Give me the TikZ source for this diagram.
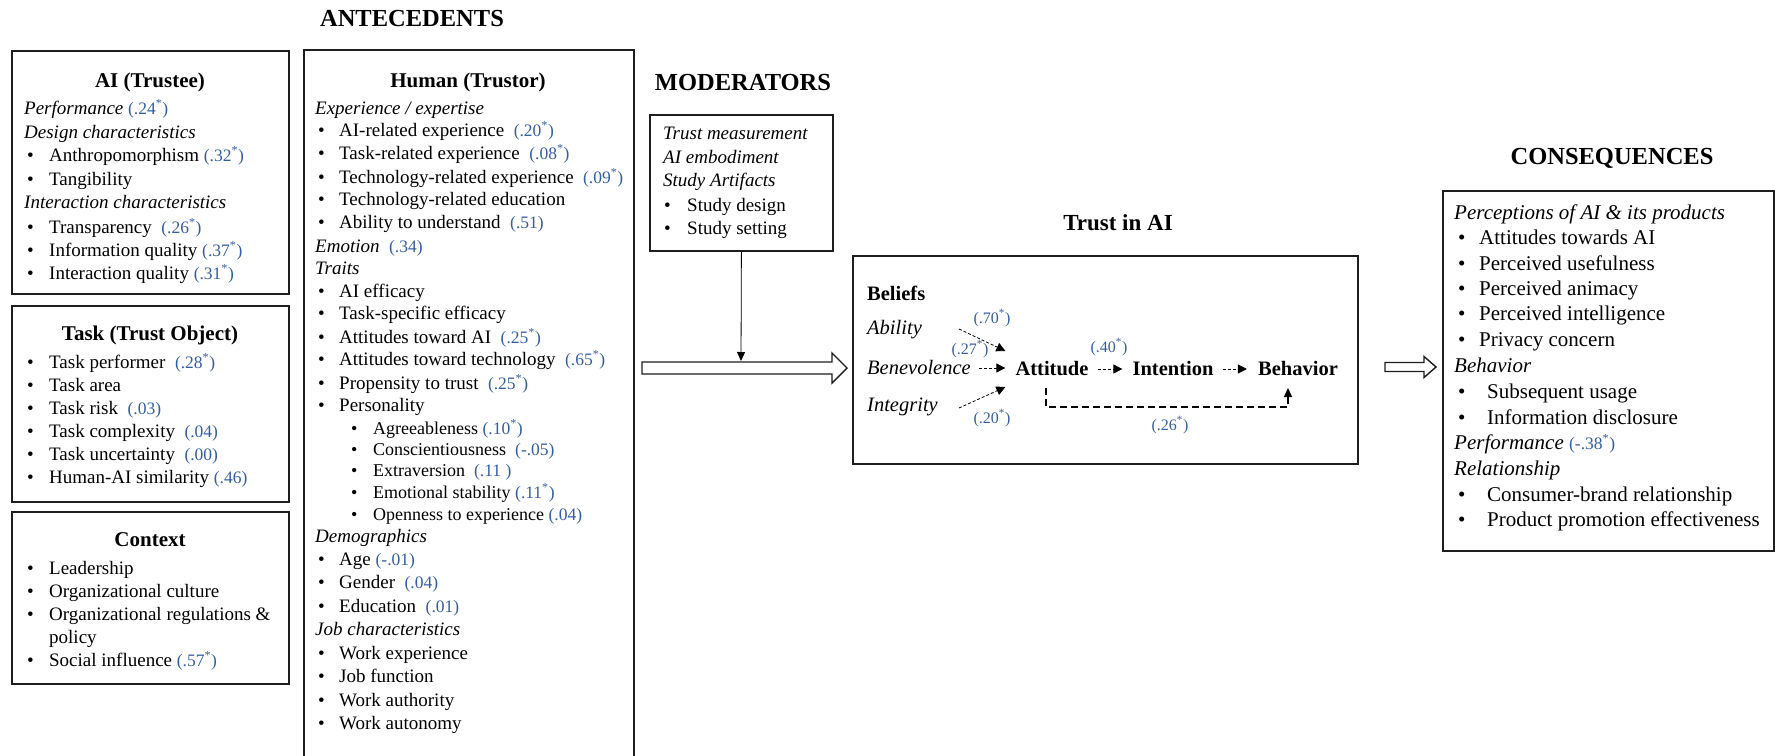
\documentclass[tikz,border=0pt]{standalone}
\usepackage{fontspec}
\setmainfont{Liberation Serif}
\usetikzlibrary{arrows.meta,calc}
\definecolor{coef}{RGB}{52,94,160}
\definecolor{frame}{RGB}{30,30,30}

% coefficient labels, plain and significant (starred)
\newcommand{\cf}[1]{{\fontsize{17.5}{20}\selectfont\color{coef}(#1)}}
\newcommand{\cfs}[1]{{\fontsize{17.5}{20}\selectfont\color{coef}(#1\textsuperscript{*})}}
% bullet item: indent of the bullet, start of the text, text
\newcommand{\itm}[3]{\makebox[#2][l]{\hspace{#1}\textbullet}#3}

\begin{document}
\begin{tikzpicture}[x=1pt,y=-1pt,
  box/.style={draw=frame, line width=1.8pt, anchor=north west, inner sep=0pt},
  body/.style={anchor=west, inner sep=0pt, font=\fontsize{19}{23}\selectfont, text height=12.5pt, text depth=0pt},
  subbody/.style={body, font=\fontsize{18}{22}\selectfont, text height=12pt},
  cons/.style={body, font=\fontsize{21}{25}\selectfont, text height=14pt},
  tbody/.style={body, font=\fontsize{20.5}{24}\selectfont, text height=13.6pt},
  flow/.style={anchor=center, inner sep=0pt, font=\fontsize{20.5}{24}\selectfont\bfseries, text height=13.6pt, text depth=0pt},
  ttl/.style={anchor=center, inner sep=0pt, font=\fontsize{21}{25}\selectfont\bfseries, text height=14pt, text depth=0pt},
  head/.style={anchor=center, inner sep=0pt, font=\fontsize{24.5}{28}\selectfont\bfseries, text height=16.2pt, text depth=0pt},
  kf/.style={anchor=center, inner sep=0pt, font=\fontsize{16}{18}\selectfont, text=coef},
  dsh/.style={line width=0.8pt, dash pattern=on 3pt off 2pt, -{Triangle[length=9pt,width=9pt]}},
  hollow/.style={draw=frame, line width=1.4pt, fill=white, line join=miter},
]
\useasboundingbox (0,0) rectangle (1775,755);
\clip (0,0) rectangle (1775,755);

% ---------- section headings ----------
\node[head] (antH) at (412,18) {ANTECEDENTS};
\node[head] (modH) at (743,82) {MODERATORS};
\node[head, font=\fontsize{23}{27}\selectfont\bfseries, text height=15.2pt] (trustH) at (1118,223) {Trust in AI};
\node[head] (consH) at (1612,156) {CONSEQUENCES};

% ---------- AI (Trustee) ----------
\node[box, minimum width=277pt, minimum height=243pt] (aibox) at (11,50) {};
\node[ttl] (aiT) at (150,80) {AI (Trustee)};
\node[body] (a1) at (24,108) {\textit{Performance} \cfs{.24}};
\node[body] (a2) at (24,132) {\textit{Design characteristics}};
\node[body] (a3) at (24,155) {\itm{3pt}{25pt}{Anthropomorphism \cfs{.32}}};
\node[body] (a4) at (24,179) {\itm{3pt}{25pt}{Tangibility}};
\node[body] (a5) at (24,202) {\textit{Interaction characteristics}};
\node[body] (a6) at (24,227) {\itm{3pt}{25pt}{Transparency \ \cfs{.26}}};
\node[body] (a7) at (24,250) {\itm{3pt}{25pt}{Information quality \cfs{.37}}};
\node[body] (a8) at (24,273) {\itm{3pt}{25pt}{Interaction quality \cfs{.31}}};

% ---------- Task (Trust Object) ----------
\node[box, minimum width=277pt, minimum height=196pt] (taskbox) at (11,305) {};
\node[ttl] (taskT) at (150,333) {Task (Trust Object)};
\node[body] (t1) at (24,362) {\itm{3pt}{25pt}{Task performer \ \cfs{.28}}};
\node[body] (t2) at (24,385) {\itm{3pt}{25pt}{Task area}};
\node[body] (t3) at (24,408) {\itm{3pt}{25pt}{Task risk \ \cf{.03}}};
\node[body] (t4) at (24,431) {\itm{3pt}{25pt}{Task complexity \ \cf{.04}}};
\node[body] (t5) at (24,454) {\itm{3pt}{25pt}{Task uncertainty \ \cf{.00}}};
\node[body] (t6) at (24,477) {\itm{3pt}{25pt}{Human-AI similarity \cf{.46}}};

% ---------- Context ----------
\node[box, minimum width=277pt, minimum height=172pt] (ctxbox) at (11,511) {};
\node[ttl] (ctxT) at (150,539) {Context};
\node[body] (c1) at (24,568) {\itm{3pt}{25pt}{Leadership}};
\node[body] (c2) at (24,591) {\itm{3pt}{25pt}{Organizational culture}};
\node[body] (c3) at (24,614) {\itm{3pt}{25pt}{Organizational regulations \&}};
\node[body] (c4) at (24,637) {\hspace{25pt}policy};
\node[body] (c5) at (24,660) {\itm{3pt}{25pt}{Social influence \cfs{.57}}};

% ---------- Human (Trustor) ----------
\node[box, minimum width=330pt, minimum height=730pt] (humbox) at (303,49) {};
\node[ttl] (humT) at (468,80) {Human (Trustor)};
\node[body] (h1) at (315,108) {\textit{Experience / expertise}};
\node[body] (h2) at (315,130) {\itm{3pt}{24pt}{AI-related experience \ \cfs{.20}}};
\node[body] (h3) at (315,153) {\itm{3pt}{24pt}{Task-related experience \ \cfs{.08}}};
\node[body] (h4) at (315,177) {\itm{3pt}{24pt}{Technology-related experience \ \cfs{.09}}};
\node[body] (h5) at (315,199) {\itm{3pt}{24pt}{Technology-related education}};
\node[body] (h6) at (315,222) {\itm{3pt}{24pt}{Ability to understand \ \cf{.51}}};
\node[body] (h7) at (315,246) {\textit{Emotion} \ \cf{.34}};
\node[body] (h8) at (315,268) {\textit{Traits}};
\node[body] (h9) at (315,291) {\itm{3pt}{24pt}{AI efficacy}};
\node[body] (h10) at (315,313) {\itm{3pt}{24pt}{Task-specific efficacy}};
\node[body] (h11) at (315,337) {\itm{3pt}{24pt}{Attitudes toward AI \ \cfs{.25}}};
\node[body] (h12) at (315,359) {\itm{3pt}{24pt}{Attitudes toward technology \ \cfs{.65}}};
\node[body] (h13) at (315,383) {\itm{3pt}{24pt}{Propensity to trust \ \cfs{.25}}};
\node[body] (h14) at (315,405) {\itm{3pt}{24pt}{Personality}};
\node[subbody] (h15) at (315,428) {\itm{36pt}{58pt}{Agreeableness \cfs{.10}}};
\node[subbody] (h16) at (315,449) {\itm{36pt}{58pt}{Conscientiousness \ \cf{-.05}}};
\node[subbody] (h17) at (315,470) {\itm{36pt}{58pt}{Extraversion \ \cf{.11 }}};
\node[subbody] (h18) at (315,492) {\itm{36pt}{58pt}{Emotional stability \cfs{.11}}};
\node[subbody] (h19) at (315,514) {\itm{36pt}{58pt}{Openness to experience \cf{.04}}};
\node[body] (h20) at (315,536) {\textit{Demographics}};
\node[body] (h21) at (315,559) {\itm{3pt}{24pt}{Age \cf{-.01}}};
\node[body] (h22) at (315,582) {\itm{3pt}{24pt}{Gender \ \cf{.04}}};
\node[body] (h23) at (315,606) {\itm{3pt}{24pt}{Education \ \cf{.01}}};
\node[body] (h24) at (315,629) {\textit{Job characteristics}};
\node[body] (h25) at (315,653) {\itm{3pt}{24pt}{Work experience}};
\node[body] (h26) at (315,676) {\itm{3pt}{24pt}{Job function}};
\node[body] (h27) at (315,700) {\itm{3pt}{24pt}{Work authority}};
\node[body] (h28) at (315,723) {\itm{3pt}{24pt}{Work autonomy}};

% ---------- Moderators ----------
\node[box, minimum width=183pt, minimum height=136pt] (modbox) at (649,114) {};
\node[body] (m1) at (663,133) {\textit{Trust measurement}};
\node[body] (m2) at (663,157) {\textit{AI embodiment}};
\node[body] (m3) at (663,180) {\textit{Study Artifacts}};
\node[body] (m4) at (663,205) {\itm{1pt}{24pt}{Study design}};
\node[body] (m5) at (663,228) {\itm{1pt}{24pt}{Study setting}};

% ---------- Trust in AI ----------
\node[box, minimum width=505pt, minimum height=208pt] (trustbox) at (852,255) {};
\node[tbody] (bel) at (867,294) {\textbf{Beliefs}};
\node[tbody] (abil) at (867,328) {\textit{Ability}};
\node[tbody] (ben) at (867,368) {\textit{Benevolence}};
\node[tbody] (integ) at (867,405) {\textit{Integrity}};
\node[flow] (att) at (1052,369) {Attitude};
\node[flow] (intn) at (1173,369) {Intention};
\node[flow] (behv) at (1298,369) {Behavior};

\draw[dsh] ([xshift=37pt,yshift=-1pt]abil.east) -- ([xshift=-10pt,yshift=18pt]att.west);
\draw[dsh, shorten <=8pt, shorten >=10pt] (ben.east) -- (ben.east -| att.west);
\draw[dsh] ([xshift=21pt,yshift=-3pt]integ.east) -- ([xshift=-10pt,yshift=-18pt]att.west);
\draw[dsh, shorten <=9pt, shorten >=10pt] (att.east) -- (intn.west);
\draw[dsh, shorten <=9pt, shorten >=11pt] (intn.east) -- (behv.west);
\draw[line width=1.2pt, dash pattern=on 7pt off 4pt, -{Triangle[length=9pt,width=8pt]}]
  ([xshift=-6pt,yshift=-12pt]att.south) -- ++(0,19) -| ([xshift=-10pt,yshift=-12pt]behv.south);

\node[kf] (k70) at (992,318) {(.70\textsuperscript{*})};
\node[kf] (k27) at (970,349) {(.27\textsuperscript{*})};
\node[kf] (k40) at (1109,347) {(.40\textsuperscript{*})};
\node[kf] (k20) at (992,418) {(.20\textsuperscript{*})};
\node[kf] (k26) at (1170,425) {(.26\textsuperscript{*})};

% ---------- Consequences ----------
\node[box, minimum width=331pt, minimum height=360pt] (consbox) at (1442,190) {};
\node[cons] (q1) at (1454,212) {\textit{Perceptions of AI \& its products}};
\node[cons] (q2) at (1454,237) {\itm{4pt}{25pt}{Attitudes towards AI}};
\node[cons] (q3) at (1454,263) {\itm{4pt}{25pt}{Perceived usefulness}};
\node[cons] (q4) at (1454,288) {\itm{4pt}{25pt}{Perceived animacy}};
\node[cons] (q5) at (1454,313) {\itm{4pt}{25pt}{Perceived intelligence}};
\node[cons] (q6) at (1454,339) {\itm{4pt}{25pt}{Privacy concern}};
\node[cons] (q7) at (1454,365) {\textit{Behavior}};
\node[cons] (q8) at (1454,391) {\itm{4pt}{33pt}{Subsequent usage}};
\node[cons] (q9) at (1454,417) {\itm{4pt}{33pt}{Information disclosure}};
\node[cons] (q10) at (1454,442) {\textit{Performance} \cfs{-.38}};
\node[cons] (q11) at (1454,468) {\textit{Relationship}};
\node[cons] (q12) at (1454,494) {\itm{4pt}{33pt}{Consumer-brand relationship}};
\node[cons] (q13) at (1454,519) {\itm{4pt}{33pt}{Product promotion effectiveness}};

% ---------- connectors ----------
% antecedents -> trust (hollow block arrow)
\draw[hollow] (642,362) -- (832,362) -- (832,353) -- (847,368) -- (832,383) -- (832,374) -- (642,374) -- cycle;
% trust -> consequences (hollow block arrow)
\draw[hollow] (1385,362.5) -- (1424,362.5) -- (1424,356.5) -- (1436,367) -- (1424,377.5) -- (1424,371.5) -- (1385,371.5) -- cycle;
% moderators acting on the main path
\coordinate (modtip) at (741,361);
\draw[line width=0.8pt, -{Triangle[length=9pt,width=8pt]}] (modbox.south) -- (modtip);
\end{tikzpicture}
\end{document}
